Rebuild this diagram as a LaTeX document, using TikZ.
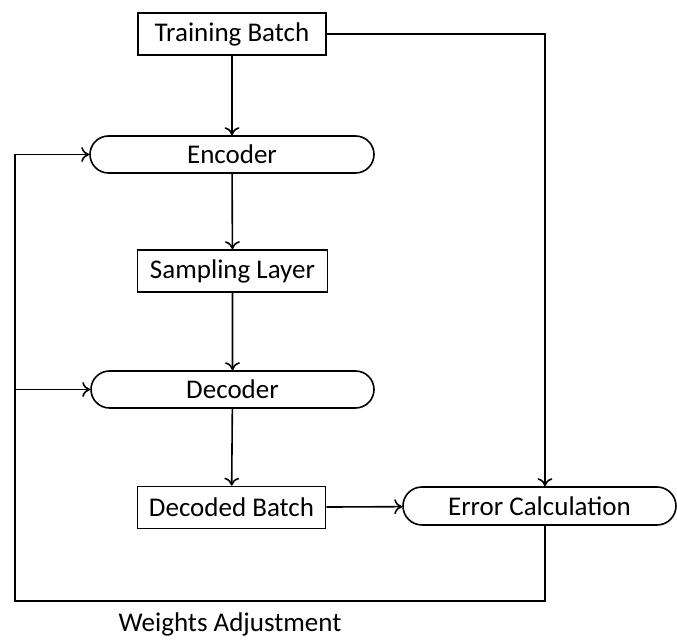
\documentclass[tikz,border=0pt]{standalone}
\usepackage{fontspec}
\setmainfont{Carlito}
\usetikzlibrary{shapes.misc,arrows.meta}
\begin{document}
\begin{tikzpicture}[x=0.5pt,y=-0.5pt,
  every node/.style={font=\fontsize{13.5}{15}\selectfont, inner sep=0pt},
  box/.style={draw, line width=0.8pt, rectangle, minimum width=94pt, minimum height=21pt},
  pill/.style={draw, line width=0.8pt, rounded rectangle, minimum height=18.5pt},
  conn/.style={line width=0.8pt, -{To[length=4pt,width=7.5pt]}},
  plain/.style={line width=0.8pt}]
\useasboundingbox (0,0) rectangle (677,640);

\node[box] (tb) at (232,34) {Training Batch};
\node[pill, minimum width=142pt] (enc) at (232,154.5) {Encoder};
\node[box, minimum width=95pt] (samp) at (232.5,271) {Sampling Layer};
\node[pill, minimum width=141.5pt] (dec) at (232.5,389.5) {Decoder};
\node[box] (db) at (231.5,507.5) {Decoded Batch};
\node[pill, minimum width=136.5pt, minimum height=19pt] (err) at (539.5,506) {Error Calculation};
\node (wa) at (230,624) {Weights Adjustment};

% main forward chain
\draw[conn] (tb) -- (enc);
\draw[conn] (enc) -- (samp);
\draw[conn] (samp) -- (dec);
\draw[conn] (dec) -- (db);
\draw[conn] (db) -- (err);

% reference path from the batch to the error
\coordinate (errtop) at (545,0 |- err.north);
\draw[conn] (tb.east) -| (errtop);

% feedback loop
\coordinate (errbot) at (545,0 |- err.south);
\coordinate (lowright) at (545,601);
\coordinate (lowleft) at (15,601);
\coordinate (upleft) at (15,0 |- enc.west);
\coordinate (midleft) at (15,0 |- dec.west);
\draw[plain] (errbot) -- (lowright) -- (lowleft) -- (upleft);
\draw[conn] (upleft) -- (enc.west);
\draw[conn] (midleft) -- (dec.west);
\end{tikzpicture}
\end{document}
